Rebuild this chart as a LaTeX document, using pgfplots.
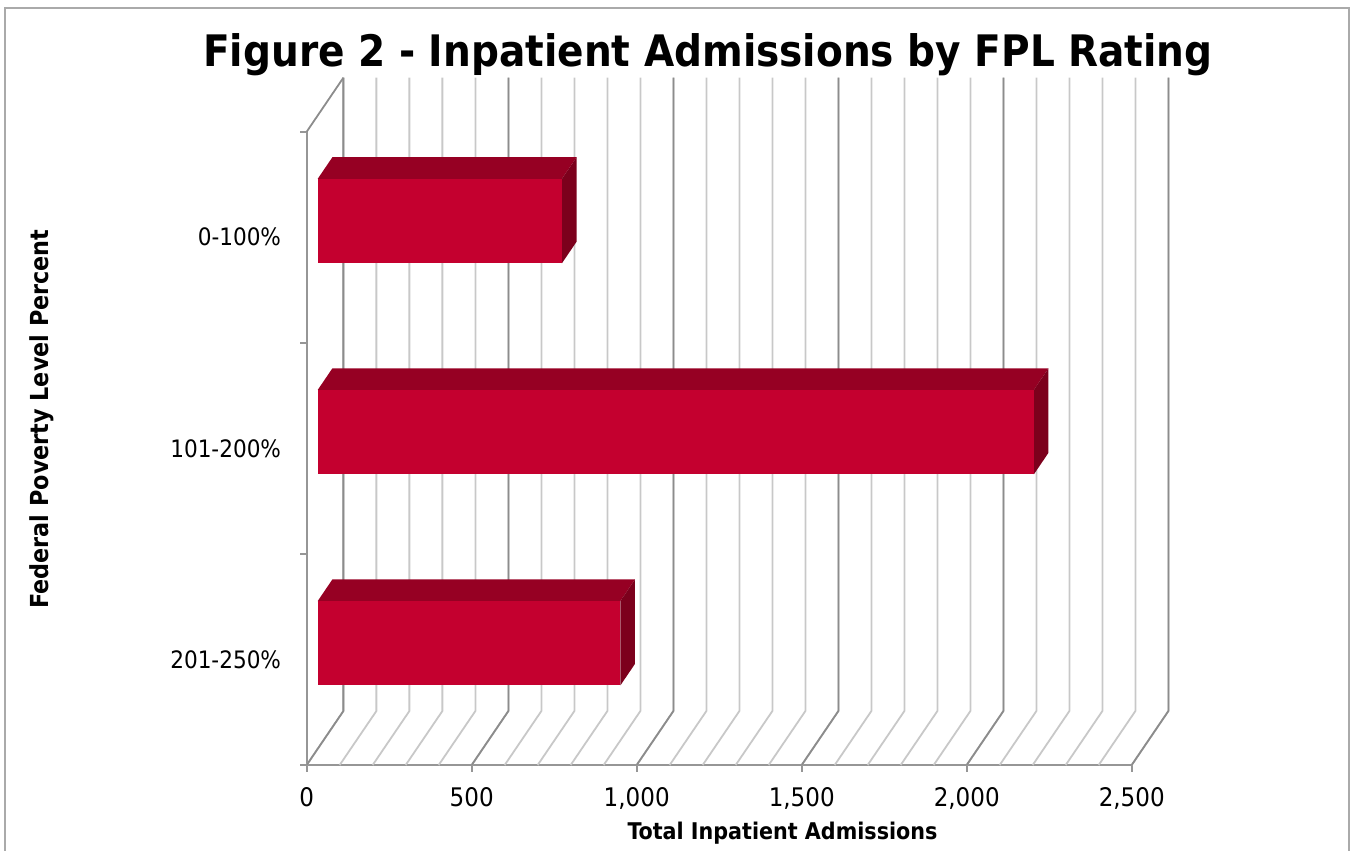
\documentclass[border=0pt]{standalone}
\usepackage{pgfplots}
\pgfplotsset{compat=1.18}
\usepackage{fontspec}
\setmainfont{DejaVu Sans Condensed}
\definecolor{barfront}{RGB}{196,0,47}
\definecolor{bartop}{RGB}{150,0,35}
\definecolor{barside}{RGB}{124,0,28}
\definecolor{gridminor}{RGB}{200,200,200}
\definecolor{gridmajor}{RGB}{140,140,140}
\definecolor{axisgray}{RGB}{150,150,150}
\definecolor{framegray}{RGB}{170,170,170}
\begin{document}
\begin{tikzpicture}
\useasboundingbox (-153.35pt,-42.5pt) rectangle (522.65pt,382.5pt);
\draw[framegray, line width=1pt] (-150.85pt,-45pt) -- (-150.85pt,378.5pt) -- (521.15pt,378.5pt) -- (521.15pt,-45pt);
\begin{axis}[
  at={(0,0)}, anchor=south west, scale only axis,
  width=412.5pt, height=316.65pt,
  xmin=0, xmax=2500, ymin=-0.5, ymax=2.5,
  clip=false,
  axis x line*=bottom, axis y line*=left,
  axis line style={axisgray, line width=0.9pt, -},
  xtick={0,500,...,2500},
  ytick={0,1,2},
  yticklabels={201-250\%,101-200\%,0-100\%},
  minor ytick={-0.5,0.5,1.5,2.5},
  tick align=outside,
  major tick length=3.3pt,
  minor tick length=3.3pt,
  major x tick style={axisgray, line width=0.9pt},
  major y tick style={draw=none},
  minor y tick style={axisgray, line width=0.9pt},
  /pgf/number format/.cd, 1000 sep={,}, assume math mode=true, /pgfplots/.cd,
  xticklabel style={font=\fontsize{12.8}{15}\selectfont, anchor=base, yshift=-17.5pt},
  yticklabel style={font=\fontsize{12}{14}\selectfont, anchor=east, xshift=-6pt},
]
% gridlines (walls)
\pgfplotsinvokeforeach{0,100,...,2500}{
  \draw[gridminor, line width=0.9pt] (axis cs:#1,-0.5) -- (axis cs:#1+111.2,-0.2442) -- (axis cs:#1+111.2,2.7558);
}
\pgfplotsinvokeforeach{0,500,...,2500}{
  \draw[gridmajor, line width=0.9pt] (axis cs:#1,-0.5) -- (axis cs:#1+111.2,-0.2442) -- (axis cs:#1+111.2,2.7558);
}
\draw[gridmajor, line width=0.9pt] (axis cs:0,2.5) -- (axis cs:111.2,2.7558);
% bar 0-100% : 740
\addplot[fill=bartop, draw=none] coordinates {(33.4,2.2767) (773.4,2.2767) (817.8,2.379) (77.8,2.379)};
\addplot[fill=barside, draw=none] coordinates {(773.4,1.8767) (817.8,1.979) (817.8,2.379) (773.4,2.2767)};
\addplot[fill=barfront, draw=none] coordinates {(33.4,1.8767) (773.4,1.8767) (773.4,2.2767) (33.4,2.2767)};
% bar 101-200% : 2170
\addplot[fill=bartop, draw=none] coordinates {(33.4,1.2767) (2203.4,1.2767) (2247.8,1.379) (77.8,1.379)};
\addplot[fill=barside, draw=none] coordinates {(2203.4,0.8767) (2247.8,0.979) (2247.8,1.379) (2203.4,1.2767)};
\addplot[fill=barfront, draw=none] coordinates {(33.4,0.8767) (2203.4,0.8767) (2203.4,1.2767) (33.4,1.2767)};
% bar 201-250% : 917
\addplot[fill=bartop, draw=none] coordinates {(33.4,0.2767) (950.4,0.2767) (994.8,0.379) (77.8,0.379)};
\addplot[fill=barside, draw=none] coordinates {(950.4,-0.1233) (994.8,-0.021) (994.8,0.379) (950.4,0.2767)};
\addplot[fill=barfront, draw=none] coordinates {(33.4,-0.1233) (950.4,-0.1233) (950.4,0.2767) (33.4,0.2767)};
\end{axis}
\node[anchor=base, font=\bfseries\fontsize{21.7}{26}\selectfont] at (200.65pt,349.15pt) {Figure 2 - Inpatient Admissions by FPL Rating};
\node[anchor=base, font=\bfseries\fontsize{11.5}{14}\selectfont] at (237.9pt,-37pt) {Total Inpatient Admissions};
\node[rotate=90, font=\bfseries\fontsize{12.4}{15}\selectfont] at (-132.5pt,173pt) {Federal Poverty Level Percent};
\end{tikzpicture}
\end{document}
